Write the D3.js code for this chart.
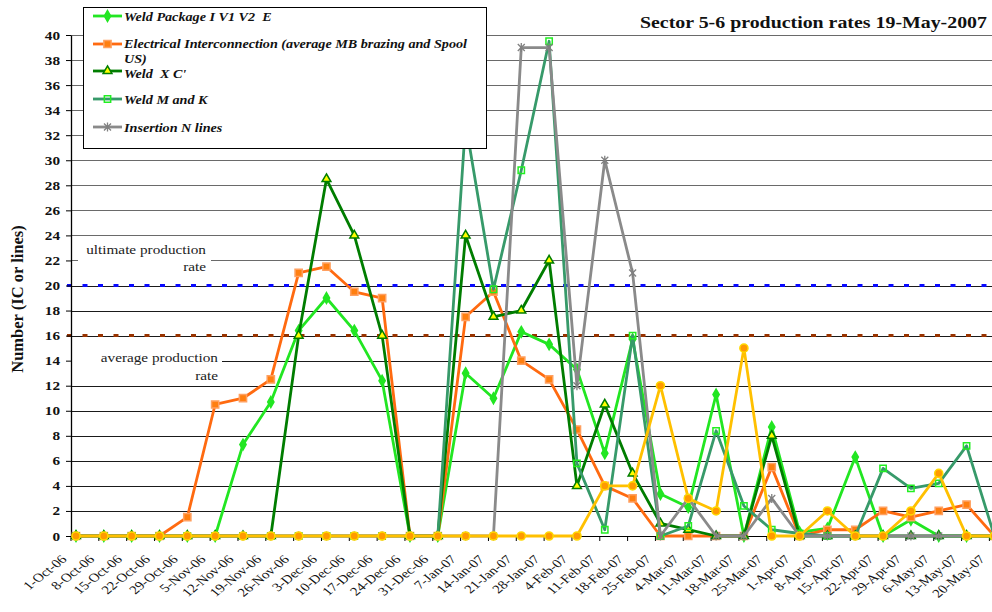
<!DOCTYPE html>
<html lang="en">
<head>
<meta charset="utf-8">
<style>
body { margin: 0; background: white; }
svg { display: block; }
text { font-family: "Liberation Serif", serif; fill: #111; }
.axis path, .axis line { stroke: black; }
.ylab text { font-weight: bold; font-size: 12.5px; }
.xlab text { font-size: 12px; }
.legend text { font-weight: bold; font-style: italic; font-size: 13.5px; white-space: pre; }
.note { font-size: 12.5px; fill: #222; }
</style>
</head>
<body>
<svg width="992" height="612"></svg>
<script src="https://d3js.org/d3.v7.min.js"></script>
<script>
var weeks = ["1-Oct-06", "8-Oct-06", "15-Oct-06", "22-Oct-06", "29-Oct-06",
             "5-Nov-06", "12-Nov-06", "19-Nov-06", "26-Nov-06",
             "3-Dec-06", "10-Dec-06", "17-Dec-06", "24-Dec-06", "31-Dec-06",
             "7-Jan-07", "14-Jan-07", "21-Jan-07", "28-Jan-07",
             "4-Feb-07", "11-Feb-07", "18-Feb-07", "25-Feb-07",
             "4-Mar-07", "11-Mar-07", "18-Mar-07", "25-Mar-07",
             "1-Apr-07", "8-Apr-07", "15-Apr-07", "22-Apr-07", "29-Apr-07",
             "6-May-07", "13-May-07", "20-May-07"];

var weldPackage = [0, 0, 0, 0, 0, 0, 7.3, 10.7, 16.4, 19, 16.4, 12.4, 0, 0, 13, 11, 16.3, 15.3,
                   13.3, 6.6, 15.7, 3.35, 2.3, 11.3, 0, 8.7, 0.3, 0.6, 6.3, 0, 1.3, 0, 0, 0];
var electrical = [0, 0, 0, 0, 1.5, 10.5, 11, 12.5, 21, 21.5, 19.5, 19, 0, 0, 17.5, 19.5, 14, 12.5,
                  8.5, 4, 3, 0, 0, 0, 0, 5.5, 0, 0.5, 0.5, 2, 1.5, 2, 2.5, 0];
var weldXC = [0, 0, 0, 0, 0, 0, 0, 0, 16, 28.5, 24, 16, 0, 0, 24, 17.5, 18, 22,
              4, 10.5, 5, 1, 0.5, 0, 0, 8, 0, 0, 0, 0, 0, 0, 0, 0];
var weldMK = [0, 0, 0, 0, 0, 0, 0, 0, 0, 0, 0, 0, 0, 0, 33, 19.7, 29.2, 39.5,
              5.8, 0.5, 16, 0, 0.8, 8.4, 2.4, 0.5, 0.2, 0, 0, 5.4, 3.8, 4.2, 7.2, 0];
var insertion = [0, 0, 0, 0, 0, 0, 0, 0, 0, 0, 0, 0, 0, 0, 0, 0, 39, 39,
                 12, 30, 21, 0, 3, 0, 0, 3, 0, 0, 0, 0, 0, 0, 0, 0];
var otherRate = [0, 0, 0, 0, 0, 0, 0, 0, 0, 0, 0, 0, 0, 0, 0, 0, 0, 0,
                 0, 4, 4, 12, 3, 2, 15, 0, 0, 2, 0, 0, 2, 5, 0, 0];
var ultimateRate = 20;
var averageRate = 16;
var yTicks = d3.range(0, 41, 2);

var svg = d3.select("svg");
var axisX = 71, baseY = 536, topY = 35;
var stretch = 1.22;   // the original picture was widened, text too

var x = d3.scalePoint().domain(weeks).range([76, 994.4]);
var y = d3.scaleLinear().domain([0, 40]).range([baseY, topY]);

// gridlines
var grid = svg.append("g").attr("class", "grid");
grid.selectAll("line")
    .data(yTicks.filter(function(d) { return d > 0; }))
    .enter().append("line")
    .attr("x1", axisX).attr("x2", 992)
    .attr("y1", function(d) { return Math.round(y(d)) + 0.5; })
    .attr("y2", function(d) { return Math.round(y(d)) + 0.5; })
    .attr("stroke", function(d) { return d >= 22 ? "#6a6a6a" : "#1a1a1a"; });

// boxes behind the two notes hide the gridlines there
svg.append("rect").attr("x", 78).attr("y", 240).attr("width", 133).attr("height", 36).attr("fill", "white");
svg.append("rect").attr("x", 72).attr("y", 344).attr("width", 150).attr("height", 38).attr("fill", "white");
function note(tx, ty, str) {
    svg.append("text").attr("class", "note")
        .attr("transform", "translate(" + tx + "," + ty + ") scale(1.22,1)")
        .attr("text-anchor", "end").text(str);
}
note(206, 254, "ultimate production");
note(206, 271, "rate");
note(218, 362, "average production");
note(218, 380, "rate");

// reference rates
[[ultimateRate, "#0a0aff"], [averageRate, "#993300"]].forEach(function(r) {
    svg.append("line")
        .attr("x1", 67).attr("x2", 992)
        .attr("y1", y(r[0])).attr("y2", y(r[0]))
        .attr("stroke", r[1]).attr("stroke-width", 3)
        .attr("stroke-dasharray", "5,10.5");
});

// axes
var yAxis = svg.append("g").attr("class", "axis ylab")
    .attr("transform", "translate(" + axisX + ",0)")
    .call(d3.axisLeft(y).tickValues(yTicks).tickSize(5).tickSizeOuter(0));
yAxis.select(".domain").attr("stroke-width", 1.3);
yAxis.selectAll("text")
    .attr("x", 0)
    .attr("transform", "translate(-11,0) scale(" + stretch + ",1)");

var xAxis = svg.append("g").attr("class", "axis xlab")
    .attr("transform", "translate(-5.5," + baseY + ")")
    .call(d3.axisBottom(x).tickSize(5).tickSizeOuter(0));
xAxis.select(".domain").remove();
xAxis.selectAll("text")
    .attr("text-anchor", "end")
    .attr("dy", null).attr("y", 0)
    .attr("transform", "translate(-3.5,24) scale(1.25,1) rotate(-45)");
svg.append("line").attr("x1", axisX).attr("x2", 992)
    .attr("y1", baseY + 0.5).attr("y2", baseY + 0.5).attr("stroke", "black");

svg.append("text")
    .attr("transform", "translate(23,299) rotate(-90)")
    .attr("text-anchor", "middle")
    .style("font-weight", "bold").style("font-size", "16.5px")
    .text("Number (IC or lines)");

svg.append("text")
    .attr("x", 987).attr("y", 28)
    .attr("text-anchor", "end")
    .attr("textLength", 347).attr("lengthAdjust", "spacingAndGlyphs")
    .style("font-weight", "bold").style("font-size", "16.5px")
    .text("Sector 5-6 production rates 19-May-2007");

// series
var starPath = "M-3.5,-3.5L3.5,3.5M-3.5,3.5L3.5,-3.5M0,-4.5L0,4.5";
var series = [
    { name: "Weld Package I V1 V2  E", values: weldPackage, color: "#22e622",
      symbol: d3.symbol().type(d3.symbolDiamond).size(34), fill: "#22e622", stroke: "#22e622" },
    { name: "Electrical Interconnection (average MB brazing and Spool", name2: "US)", values: electrical, color: "#ff6a10",
      symbol: d3.symbol().type(d3.symbolSquare).size(52), fill: "#ff7f10", stroke: "#ffa060" },
    { name: "Weld  X C'", values: weldXC, color: "#007d00",
      symbol: d3.symbol().type(d3.symbolTriangle).size(34), fill: "#ffff00", stroke: "#007d00" },
    { name: "Weld M and K", values: weldMK, color: "#379a6a",
      symbol: d3.symbol().type(d3.symbolSquare).size(40), fill: "none", stroke: "#22ee22" },
    { name: "Insertion N lines", values: insertion, color: "#8a8a8a",
      star: true, fill: "none", stroke: "#808080" },
    { name: null, values: otherRate, color: "#ffc000",
      symbol: d3.symbol().type(d3.symbolCircle).size(52), fill: "#ff9a00", stroke: "#ffd800" }
];

var line = d3.line()
    .x(function(d, i) { return x(weeks[i]); })
    .y(function(d) { return y(d); });

function drawMarker(g, s) {
    if (s.star) {
        g.append("path").attr("d", starPath).attr("fill", "none")
            .attr("stroke", s.stroke).attr("stroke-width", 1.3);
    } else {
        g.append("path").attr("d", s.symbol()).attr("fill", s.fill)
            .attr("stroke", s.stroke).attr("stroke-width", 1.5);
    }
}

series.forEach(function(s) {
    var g = svg.append("g");
    g.append("path")
        .datum(s.values)
        .attr("fill", "none")
        .attr("stroke", s.color)
        .attr("stroke-width", 2.8)
        .attr("stroke-linejoin", "round")
        .attr("d", line);
    g.selectAll("g.m")
        .data(s.values)
        .enter().append("g")
        .attr("class", "m")
        .attr("transform", function(d, i) { return "translate(" + x(weeks[i]) + "," + y(d) + ")"; })
        .each(function() { drawMarker(d3.select(this), s); });
});

// legend
var legend = svg.append("g").attr("class", "legend");
legend.append("rect")
    .attr("x", 83.5).attr("y", 7.5).attr("width", 403).attr("height", 141)
    .attr("fill", "white").attr("stroke", "black");
var rowY = [16, 44, 71, 99, 127];
var textY = [21, 48, 78, 104, 132];
series.filter(function(s) { return s.name; }).forEach(function(s, i) {
    var ly = rowY[i];
    legend.append("line").attr("x1", 93).attr("x2", 122).attr("y1", ly).attr("y2", ly)
        .attr("stroke", s.color).attr("stroke-width", 2.8);
    drawMarker(legend.append("g").attr("transform", "translate(107.5," + ly + ")"), s);
    legend.append("text")
        .attr("transform", "translate(124," + textY[i] + ") scale(1.05,1)")
        .text(s.name);
    if (s.name2) {
        legend.append("text")
            .attr("transform", "translate(124," + (textY[i] + 15) + ") scale(1.05,1)")
            .text(s.name2);
    }
});
</script>
</body>
</html>
